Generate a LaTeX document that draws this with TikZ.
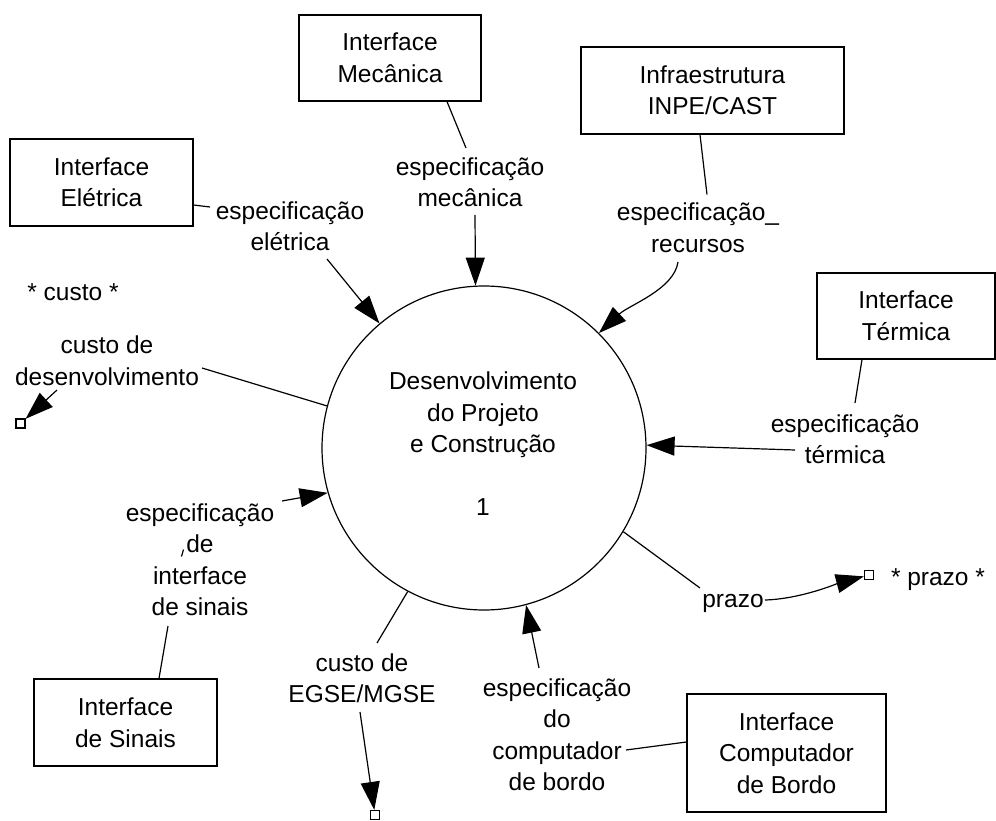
\documentclass[tikz,border=0pt]{standalone}
\usepackage{fontspec}
\setmainfont{Liberation Sans}
\usetikzlibrary{arrows.meta,calc}
\begin{document}
\begin{tikzpicture}[x=1pt,y=-1pt,line width=1.2pt,
  txt/.style={font=\fontsize{24.5}{31.5}\selectfont},
  lbl/.style={txt,align=center,inner sep=2pt},
  box/.style={txt,draw,align=center,inner sep=0pt},
  flow/.style={-{Triangle[length=28pt,width=19pt]}},
  store/.style={draw,fill=white,minimum size=9pt,inner sep=0pt}]
\fill[white] (0,0) rectangle (996,821);
\useasboundingbox (0,0) rectangle (996,821);

% external boxes
\node[box,minimum width=182pt,minimum height=86pt] (mec) at (390,58) {Interface\\Mecânica};
\node[box,minimum width=263pt,minimum height=87pt] (inf) at (712.5,90.5) {Infraestrutura\\INPE/CAST};
\node[box,minimum width=183pt,minimum height=87pt] (ele) at (101.5,182.5) {Interface\\Elétrica};
\node[box,minimum width=178pt,minimum height=86pt] (ter) at (906,316) {Interface\\Térmica};
\node[box,minimum width=183pt,minimum height=87pt] (sin) at (125.5,722.5) {Interface\\de Sinais};
\node[box,minimum width=199pt,minimum height=118pt] (comp) at (786.5,753) {Interface\\Computador\\de Bordo};

% process
\node[draw,circle,minimum size=324pt,inner sep=0pt] (c) at (484,448) {};
\node[lbl] (ct) at (483,444) {Desenvolvimento\\do Projeto\\e Construção\\[31.5pt]1};

% labels
\node[lbl] (lmec) at (470,182) {especificação\\mecânica};
\node[lbl] (linf) at (698,227.5) {especificação\_\\recursos};
\node[lbl] (lele) at (290,226) {especificação\\elétrica};
\node[lbl] (lter) at (845,439) {especificação\\térmica};
\node[lbl] (custo) at (73,292) {* custo *};
\node[lbl] (lcd) at (107,360.5) {custo de\\desenvolvimento};
\node[lbl] (lsin) at (200,559.5) {especificação\\de\\interface\\de sinais};
\node[lbl] (legse) at (362,678) {custo de\\EGSE/MGSE};
\node[lbl] (lprazo) at (733,603) {prazo};
\node[lbl] (prazo) at (938,580) {* prazo *};
\node[lbl] (lcomp) at (557,734.5) {especificação\\do\\computador\\de bordo};

% stores
\node[store] (sqc) at (20.5,423.5) {};
\node[store] (sqe) at (375,815) {};
\node[store] (sqp) at (869,575) {};

% connectors
\draw ($(mec.south)+(57,0)$) -- ($(lmec.center)+(-4,-34)$);
\draw[flow] ($(lmec.center)+(5,33)$) -- (c.93);

\draw ($(inf.south)+(-12.5,0)$) -- ($(linf.center)+(9,-33)$);
\draw[flow] ($(linf.center)+(-20,34.5)$) .. controls ($(linf.center)+(-24,62)$) and ($(c.45.5)+(30,-28)$) .. (c.45.5);

\draw ($(ele.east)+(0,22.5)$) -- ($(lele.center)+(-80,-19)$);
\draw[flow] ($(lele.center)+(37,33)$) -- (c.130.5);

\draw ($(ter.south)+(-44,0)$) -- ($(lter.center)+(10,-36)$);
\draw[flow] ($(lter.center)+(-50,11)$) -- (c.1.7);

\draw (c.165.5) -- ($(lcd.center)+(95,7.5)$);
\draw[flow] ($(lcd.center)+(-50,29.5)$) -- (sqc);

\draw ($(sin.north)+(33.5,0)$) -- ($(lsin.center)+(-32,66.5)$);
\draw ($(lsin.center)+(-18.5,-3)$) -- ($(lsin.center)+(-16.5,-10)$);
\draw[flow] ($(lsin.center)+(82,-58.5)$) -- (c.196.1);

\draw (c.242.2) -- ($(legse.center)+(15,-35)$);
\draw[flow] ($(legse.center)+(-2,34)$) -- (sqe);

\draw (c.-31.7) -- ($(lprazo.center)+(-33,-15)$);
\draw[flow] ($(lprazo.center)+(32,-3)$) .. controls ($(lprazo.center)+(68,-4)$) and ($(sqp)+(-30,8)$) .. (sqp);

\draw ($(comp.west)+(0,-11)$) -- ($(lcomp.center)+(69,15.5)$);
\draw[flow] ($(lcomp.center)+(-18,-66.5)$) -- (c.-75.5);
\end{tikzpicture}
\end{document}
